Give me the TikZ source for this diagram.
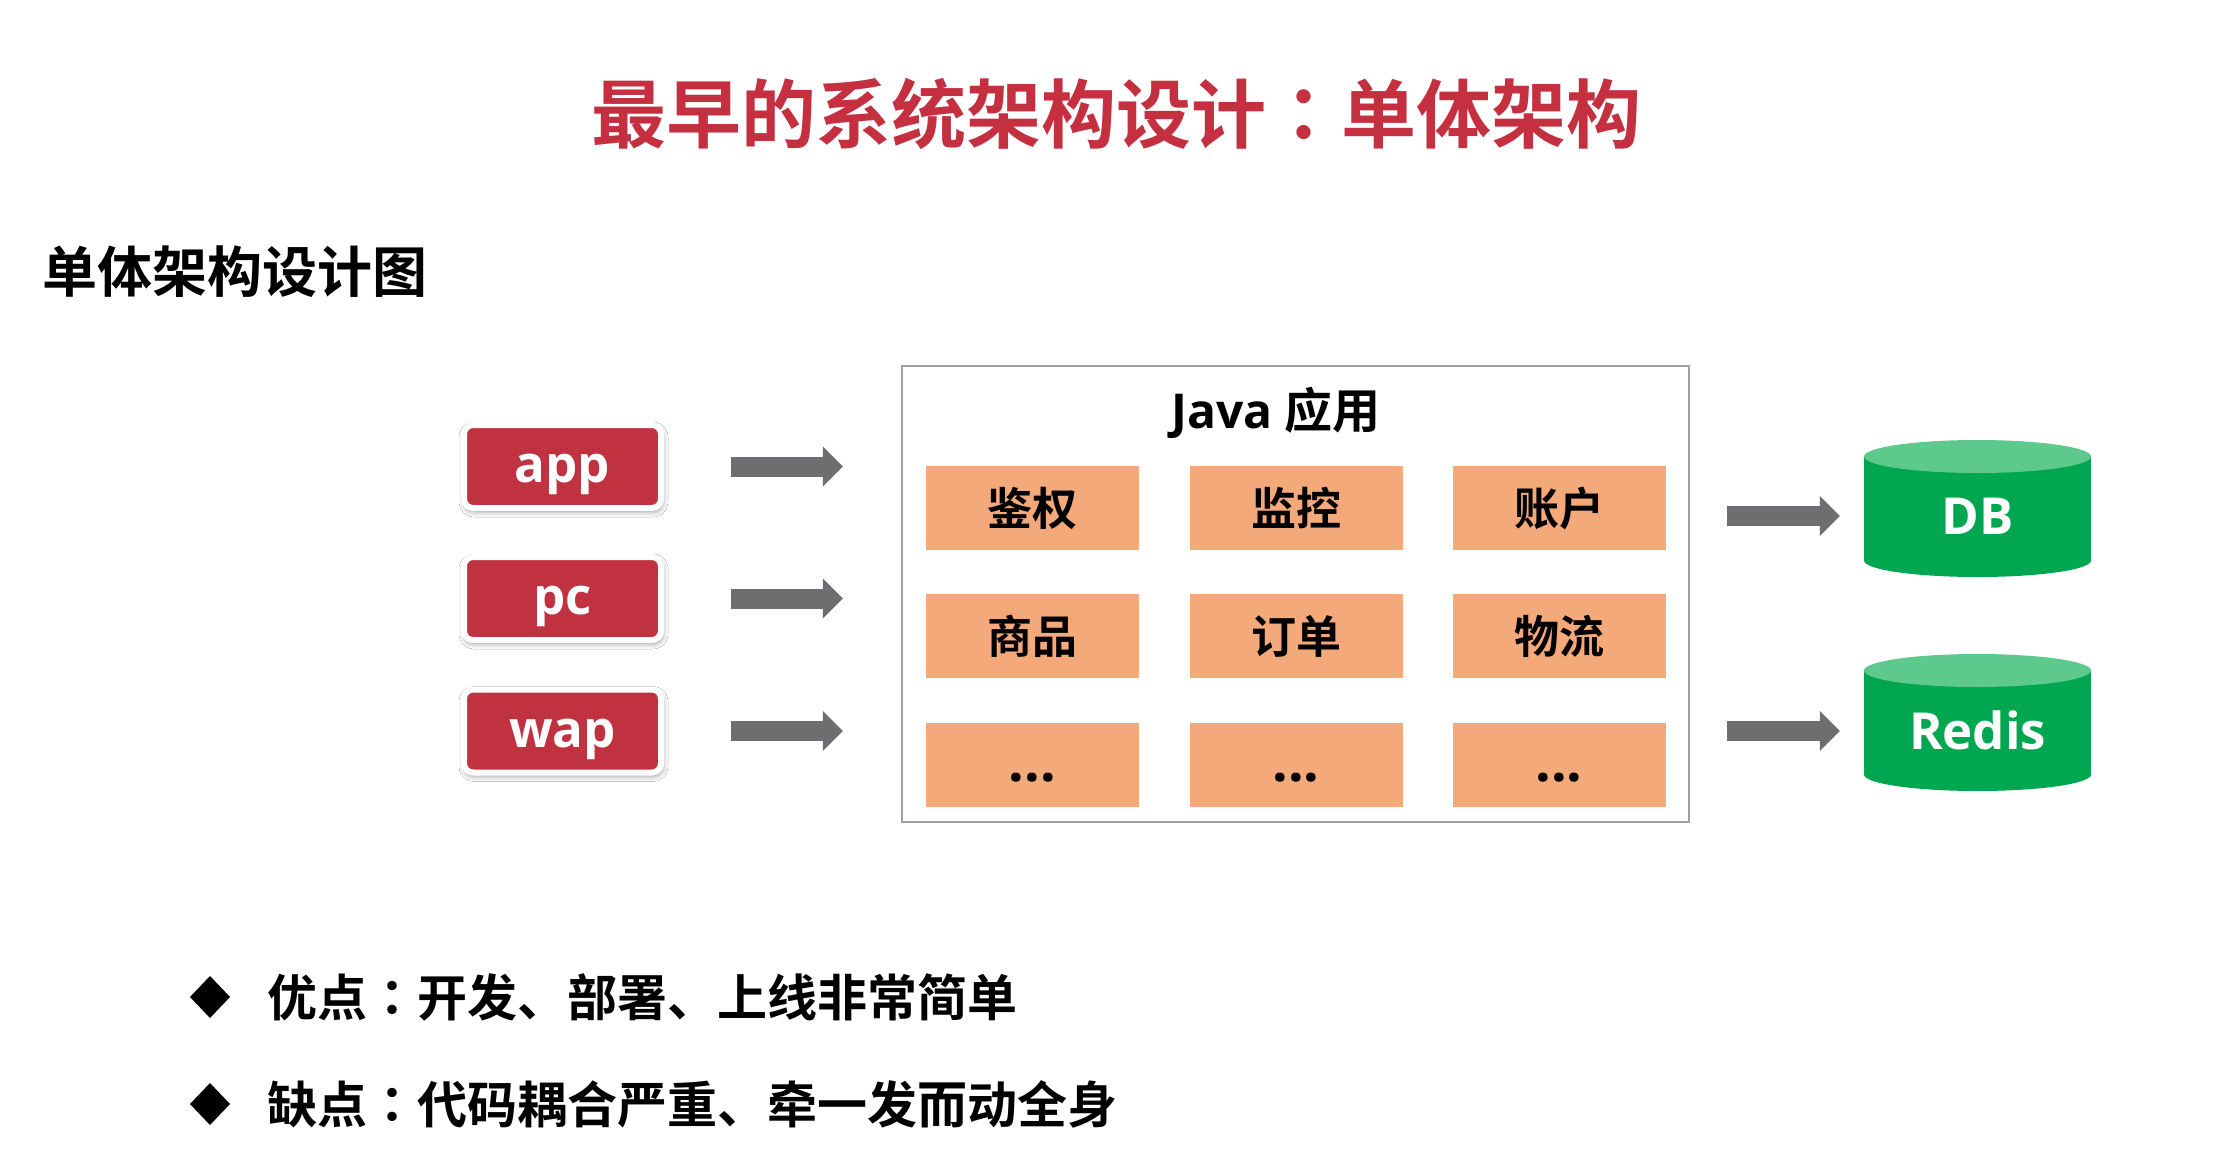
\documentclass[tikz,border=0pt]{standalone}
\usepackage{fontspec}
\setmainfont{Open Sans}
\newfontfamily\cjkb{Noto Sans CJK SC Bold}
\newfontfamily\cjkjp{Noto Sans CJK JP Bold}
\usetikzlibrary{arrows.meta,shadows.blur}

\definecolor{titlered}{RGB}{197,48,64}
\definecolor{clientred}{RGB}{193,50,64}
\definecolor{cellorange}{RGB}{244,169,122}
\definecolor{arrowgray}{RGB}{110,110,112}
\definecolor{boxgray}{RGB}{160,160,160}
\definecolor{dbgreen}{RGB}{0,166,80}
\definecolor{dbtop}{RGB}{94,201,140}

\begin{document}
\begin{tikzpicture}[x=1pt,y=-1pt,
  client/.style={rounded corners=9pt, fill=clientred, draw=white, line width=6pt,
    minimum width=197pt, minimum height=83pt, inner sep=0pt, text=white,
    font=\fontsize{51}{51}\selectfont\bfseries, text height=32pt, text depth=0pt,
    blur shadow={shadow xshift=1pt, shadow yshift=-3pt, shadow blur radius=6pt, shadow opacity=50}},
  cell/.style={fill=cellorange, minimum width=213pt, minimum height=84pt, inner sep=0pt,
    font=\cjkb\fontsize{45}{45}\selectfont},
  dots/.style={anchor=base, inner sep=0pt, font=\fontsize{55}{55}\selectfont\bfseries},
  blockarrow/.style={draw=arrowgray, line width=20pt,
    -{Triangle[length=20pt, width=40pt, line width=0pt]}},
  dbtext/.style={minimum width=227pt, inner sep=0pt, text=white,
    font=\fontsize{51}{51}\selectfont\bfseries, text height=37pt, text depth=0pt},
  bullettext/.style={anchor=west, inner sep=0pt, font=\cjkb\fontsize{50}{50}\selectfont},
]
\useasboundingbox[fill=white] (0,0) rectangle (2235,1162);

% headings
\node[text=titlered, inner sep=0pt, font=\cjkb\fontsize{75}{75}\selectfont] (title)
  at (1116,114) {最早的系统架构设计{\cjkjp ：}单体架构};
\node[anchor=west, inner sep=0pt, font=\cjkb\fontsize{55}{55}\selectfont] (subtitle)
  at (42,272) {单体架构设计图};

% clients
\node[client] (app) at (562.5,466.5) {app};
\node[client] (pc)  at (562.5,598.5) {pc};
\node[client] (wap) at (562.5,731)   {wap};

% application container
\node[draw=boxgray, line width=2.5pt, minimum width=787pt, minimum height=456pt, inner sep=0pt]
  (java) at (1295.5,594) {};
\node[inner sep=0pt, font=\fontsize{48}{48}\selectfont] (javalabel) at (1276,413)
  {{\bfseries Java} {\cjkb 应用}};

\node[cell] (c11) at (1032.5,508) {鉴权};
\node[cell] (c12) at (1296,508)   {监控};
\node[cell] (c13) at (1559,508)   {账户};
\node[cell] (c21) at (1032.5,636) {商品};
\node[cell] (c22) at (1296,636)   {订单};
\node[cell] (c23) at (1559,636)   {物流};
\node[cell] (c31) at (1032.5,765) {};
\node[cell] (c32) at (1296,765)   {};
\node[cell] (c33) at (1559,765)   {};
\node[dots] (d1) at (1032.5,781) {...};
\node[dots] (d2) at (1296,781)   {...};
\node[dots] (d3) at (1559,781)   {...};

% storage cylinders
\fill[dbgreen] (1864,456.5) rectangle (2091,560.5);
\fill[dbgreen] (1977.5,560.5) ellipse [x radius=113.5, y radius=16.5];
\fill[dbtop]   (1977.5,456.5) ellipse [x radius=113.5, y radius=16.5];
\node[dbtext] (db) at (1977.5,516) {DB};

\fill[dbgreen] (1864,670.5) rectangle (2091,774.5);
\fill[dbgreen] (1977.5,774.5) ellipse [x radius=113.5, y radius=16.5];
\fill[dbtop]   (1977.5,670.5) ellipse [x radius=113.5, y radius=16.5];
\node[dbtext] (redis) at (1977.5,731) {Redis};

% request flow
\draw[blockarrow, shorten <=67pt, shorten >=58pt] (app.east) -- (app.east -| java.west);
\draw[blockarrow, shorten <=67pt, shorten >=58pt] (pc.east)  -- (pc.east -| java.west);
\draw[blockarrow, shorten <=67pt, shorten >=58pt] (wap.east) -- (wap.east -| java.west);
\draw[blockarrow, shorten <=37pt, shorten >=24pt] (java.east |- db.west) -- (db.west);
\draw[blockarrow, shorten <=37pt, shorten >=24pt] (java.east |- redis.west) -- (redis.west);

% pros and cons
\fill (190,997) -- (210,976) -- (230,997) -- (210,1018) -- cycle;
\node[bullettext] (pros) at (267,997) {优点{\cjkjp ：}开发、部署、上线非常简单};
\fill (190,1104) -- (210,1083) -- (230,1104) -- (210,1125) -- cycle;
\node[bullettext] (cons) at (267,1104) {缺点{\cjkjp ：}代码耦合严重、牵一发而动全身};
\end{tikzpicture}
\end{document}
